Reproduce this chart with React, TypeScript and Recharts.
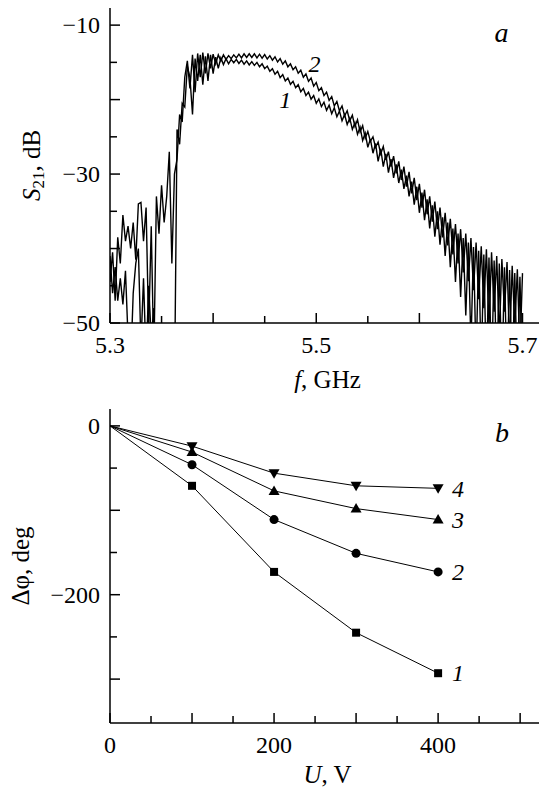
import React from "react";
import { LineChart, Line, XAxis, YAxis, ReferenceDot } from "recharts";

const FONT = "Liberation Serif, Times New Roman, serif";

// (a) S21 spectra, VNA sweep 5.3..5.7 GHz
const FREQ_START = 5.3;
const FREQ_STEP = 0.0025;

const s21Curve1 = [
  -41, -46, -42.5, -47, -44, -47.5, -43, -52, -56, -46,
  -42, -40, -53, -44, -55, -45, -52, -48, -58, -60,
  -60, -60, -60, -60, -60, -60, -24, -26, -20.5, -21,
  -15.5, -17, -22, -14.5, -17.5, -14, -18, -14.2, -17.5, -14,
  -16.5, -14.3, -15.8, -14.4, -15.3, -14.5, -15.2, -14.6, -15.05, -14.6,
  -15.15, -14.7, -15.25, -14.8, -15.35, -14.9, -15.4, -15.0, -15.6, -15.2,
  -15.85, -15.5, -16.2, -15.85, -16.6, -16.2, -17.05, -16.65, -17.5, -17.1,
  -17.95, -17.55, -18.4, -18.0, -18.95, -18.5, -19.45, -19.0, -19.95, -19.45,
  -20.5, -19.9, -20.95, -20.35, -21.45, -20.75, -21.9, -21.1, -22.3, -21.55,
  -22.85, -22.0, -23.35, -22.5, -24.0, -23.1, -24.65, -23.7, -25.5, -24.5,
  -26.4, -25.3, -27.2, -25.9, -28.3, -26.6, -29.0, -27.3, -29.8, -28.0,
  -30.5, -28.7, -31.2, -29.4, -32.0, -30.2, -33.0, -31.0, -34.1, -31.7,
  -35.2, -32.5, -36.2, -33.4, -37.3, -34.2, -38.4, -35.0, -39.5, -35.8,
  -41.0, -36.5, -42.5, -37.3, -44.5, -38.0, -46.5, -38.6, -49.0, -39.2,
  -53, -39.8, -55, -40.3, -56, -40.8, -57, -41.2, -57, -41.6,
  -58, -42.0, -58, -42.5, -58, -42.9, -58, -43.3, -58, -43.8,
  -58,
];

const s21Curve2 = [
  -44.5, -40.5, -47, -38.5, -42, -35.5, -39, -37, -40, -36.5,
  -41.5, -34, -33.8, -39, -34.5, -51, -37, -55, -33, -38,
  -31.5, -36.5, -33, -27, -42, -30, -28, -22, -23, -17,
  -14.8, -18.5, -14, -19, -13.8, -17, -13.7, -16.5, -13.8, -15.8,
  -13.9, -15.2, -14.0, -14.8, -14.0, -14.6, -14.1, -14.5, -14.0, -14.4,
  -13.9, -14.4, -13.85, -14.35, -13.85, -14.35, -13.85, -14.4, -13.9, -14.45,
  -13.95, -14.55, -14.1, -14.7, -14.25, -14.95, -14.5, -15.25, -14.8, -15.6,
  -15.2, -16.0, -15.6, -16.45, -16.05, -17.0, -16.55, -17.55, -17.1, -18.2,
  -17.7, -18.8, -18.4, -19.45, -19.0, -20.1, -19.6, -20.85, -20.25, -21.5,
  -20.85, -22.2, -21.5, -22.85, -22.1, -23.6, -22.7, -24.35, -23.5, -25.2,
  -24.3, -25.6, -25.0, -26.4, -25.7, -27.3, -26.3, -28.1, -27.0, -29.0,
  -27.6, -29.9, -28.3, -30.8, -29.0, -31.7, -29.7, -32.6, -30.5, -33.5,
  -31.3, -34.5, -32.1, -35.4, -33.0, -36.4, -33.7, -37.4, -34.5, -38.5,
  -35.2, -39.6, -36.0, -40.8, -36.7, -42.0, -37.4, -43.2, -38.0, -44.4,
  -38.6, -45.6, -39.2, -46.8, -39.7, -48, -40.1, -50.5, -40.5, -48.5,
  -41.0, -52, -41.4, -48.5, -41.8, -53, -42.3, -50.5, -42.8, -54,
  -43.3,
];

const freqTicks = [5.3, 5.35, 5.4, 5.45, 5.5, 5.55, 5.6, 5.65, 5.7];
const freqMajor = [5.3, 5.4, 5.5, 5.6, 5.7];
const freqLabeled = [5.3, 5.5, 5.7];
const s21Ticks = [-50, -45, -40, -35, -30, -25, -20, -15, -10];
const s21Major = [-50, -40, -30, -20, -10];
const s21Labeled = [-50, -30, -10];

// (b) phase shift vs bias voltage
const voltages = [0, 100, 200, 300, 400];
const phase1 = [0, -71, -173, -245, -293];
const phase2 = [0, -46, -111, -151, -173];
const phase3 = [0, -31, -77, -98, -111];
const phase4 = [0, -24, -56, -71, -74];

const voltTicks = [0, 50, 100, 150, 200, 250, 300, 350, 400, 450, 500];
const voltMajor = [0, 100, 200, 300, 400, 500];
const voltLabeled = [0, 200, 400];
const phaseTicks = [-300, -250, -200, -150, -100, -50, 0];
const phaseMajor = [-300, -200, -100, 0];
const phaseLabeled = [-200, 0];

const spectrum = s21Curve1.map((v, i) => ({
  f: +(FREQ_START + i * FREQ_STEP).toFixed(4),
  c1: v,
  c2: s21Curve2[i],
}));

const phaseData = voltages.map((u, i) => ({
  u,
  p1: phase1[i],
  p2: phase2[i],
  p3: phase3[i],
  p4: phase4[i],
}));

const has = (list: number[], v: number) => list.some((t) => Math.abs(t - v) < 1e-6);
const fmt = (v: number) => (v < 0 ? "\u2212" + Math.abs(v) : String(v));

const Y_GAP = 10;
const X_DROP = 30;

const YTick = (props: any) => {
  const { x, y, payload, major, labeled } = props;
  const v = payload.value;
  const ax = x + Y_GAP;
  const len = has(major, v) ? 10 : 7;
  return (
    <g>
      <line x1={ax} x2={ax + len} y1={y} y2={y} stroke="#000" strokeWidth={1.5} />
      {has(labeled, v) && (
        <text x={x} y={y} dy="0.34em" textAnchor="end" fontSize={24} fontFamily={FONT} fill="#000">
          {fmt(v)}
        </text>
      )}
    </g>
  );
};

const XTick = (props: any) => {
  const { x, y, payload, major, labeled } = props;
  const v = payload.value;
  const ay = y - X_DROP;
  const len = has(major, v) ? 10 : 7;
  return (
    <g>
      <line x1={x} x2={x} y1={ay} y2={ay - len} stroke="#000" strokeWidth={1.5} />
      {has(labeled, v) && (
        <text x={x} y={y} textAnchor="middle" fontSize={24} fontFamily={FONT} fill="#000">
          {fmt(v)}
        </text>
      )}
    </g>
  );
};

const Marker = (props: any) => {
  const { cx, cy, index, kind } = props;
  const key = `m-${kind}-${index}`;
  if (index === 0 || cx == null || cy == null) return <g key={key} />;
  if (kind === "square")
    return <rect key={key} x={cx - 4} y={cy - 4} width={8} height={8} fill="#000" />;
  if (kind === "circle") return <circle key={key} cx={cx} cy={cy} r={4.5} fill="#000" />;
  if (kind === "up")
    return (
      <polygon key={key} points={`${cx},${cy - 5.5} ${cx - 5.5},${cy + 4} ${cx + 5.5},${cy + 4}`} fill="#000" />
    );
  return (
    <polygon key={key} points={`${cx},${cy + 5.5} ${cx - 5.5},${cy - 4} ${cx + 5.5},${cy - 4}`} fill="#000" />
  );
};

const endLabel = (text: string, last: number) => (props: any) => {
  const { x, y, index } = props;
  if (index !== last) return null;
  return (
    <text x={x + 14} y={y} dy="0.34em" fontSize={24} fontStyle="italic" fontFamily={FONT} fill="#000">
      {text}
    </text>
  );
};

const tagLabel = (text: string, size: number) => (props: any) => {
  const vb = props.viewBox || {};
  const x = (vb.x ?? 0) + (vb.width ?? 0) / 2;
  const y = (vb.y ?? 0) + (vb.height ?? 0) / 2;
  return (
    <text x={x} y={y} textAnchor="middle" fontSize={size} fontStyle="italic" fontFamily={FONT} fill="#000">
      {text}
    </text>
  );
};

const axisStyle = { stroke: "#000", strokeWidth: 1.5 };

export default function App() {
  return (
    <div
      style={{
        position: "absolute",
        left: 0,
        top: 0,
        width: 539,
        height: 789,
        background: "#fff",
        fontFamily: FONT,
      }}
    >
      <div style={{ position: "absolute", left: 0, top: 0 }}>
        <LineChart width={539} height={400} data={spectrum} margin={{ top: 8, right: 0, bottom: 0, left: 0 }}>
          <XAxis
            dataKey="f"
            type="number"
            domain={[5.3, 5.716]}
            allowDataOverflow
            ticks={freqTicks}
            interval={0}
            height={77}
            tickSize={0}
            tickMargin={X_DROP}
            tickLine={false}
            axisLine={axisStyle}
            tick={(p: any) => <XTick {...p} major={freqMajor} labeled={freqLabeled} />}
            label={(p: any) => {
              const vb = p.viewBox;
              return (
                <text x={vb.x + vb.width / 2 + 3} y={vb.y + 65} textAnchor="middle" fontSize={25} fontFamily={FONT} fill="#000">
                  <tspan fontStyle="italic">f</tspan>, GHz
                </text>
              );
            }}
          />
          <YAxis
            type="number"
            domain={[-50, -7.7]}
            allowDataOverflow
            ticks={s21Ticks}
            interval={0}
            width={110}
            tickSize={0}
            tickMargin={Y_GAP}
            tickLine={false}
            axisLine={axisStyle}
            tick={(p: any) => <YTick {...p} major={s21Major} labeled={s21Labeled} />}
            label={(p: any) => {
              const vb = p.viewBox;
              const cx = vb.x + 40;
              const cy = vb.y + vb.height / 2;
              return (
                <text x={cx} y={cy} transform={`rotate(-90, ${cx}, ${cy})`} textAnchor="middle" fontSize={25} fontFamily={FONT} fill="#000">
                  <tspan fontStyle="italic">S</tspan>
                  <tspan fontSize={17} dy={4}>21</tspan>
                  <tspan dy={-4}>, dB</tspan>
                </text>
              );
            }}
          />
          <Line dataKey="c1" type="linear" stroke="#000" strokeWidth={1.4} dot={false} isAnimationActive={false} />
          <Line dataKey="c2" type="linear" stroke="#000" strokeWidth={1.4} dot={false} isAnimationActive={false} />
          <ReferenceDot x={5.4699} y={-21.18} r={0} fill="none" stroke="none" label={tagLabel("1", 24)} />
          <ReferenceDot x={5.4983} y={-16.27} r={0} fill="none" stroke="none" label={tagLabel("2", 24)} />
          <ReferenceDot x={5.6796} y={-12.28} r={0} fill="none" stroke="none" label={tagLabel("a", 28)} />
        </LineChart>
      </div>

      <div style={{ position: "absolute", left: 0, top: 400 }}>
        <LineChart width={539} height={389} data={phaseData} margin={{ top: 9, right: 0, bottom: 0, left: 0 }}>
          <XAxis
            dataKey="u"
            type="number"
            domain={[0, 523]}
            allowDataOverflow
            ticks={voltTicks}
            interval={0}
            height={66}
            tickSize={0}
            tickMargin={X_DROP}
            tickLine={false}
            axisLine={axisStyle}
            tick={(p: any) => <XTick {...p} major={voltMajor} labeled={voltLabeled} />}
            label={(p: any) => {
              const vb = p.viewBox;
              return (
                <text x={vb.x + vb.width / 2 + 3} y={vb.y + 60} textAnchor="middle" fontSize={25} fontFamily={FONT} fill="#000">
                  <tspan fontStyle="italic">U</tspan>, V
                </text>
              );
            }}
          />
          <YAxis
            type="number"
            domain={[-352, 20]}
            allowDataOverflow
            ticks={phaseTicks}
            interval={0}
            width={110}
            tickSize={0}
            tickMargin={Y_GAP}
            tickLine={false}
            axisLine={axisStyle}
            tick={(p: any) => <YTick {...p} major={phaseMajor} labeled={phaseLabeled} />}
            label={(p: any) => {
              const vb = p.viewBox;
              const cx = vb.x + 29;
              const cy = vb.y + vb.height / 2;
              return (
                <text x={cx} y={cy} transform={`rotate(-90, ${cx}, ${cy})`} textAnchor="middle" fontSize={25} fontFamily={FONT} fill="#000">
                  Δφ, deg
                </text>
              );
            }}
          />
          <Line dataKey="p1" type="linear" stroke="#000" strokeWidth={1} isAnimationActive={false}
            dot={(p: any) => <Marker {...p} kind="square" />} label={endLabel("1", 4)} />
          <Line dataKey="p2" type="linear" stroke="#000" strokeWidth={1} isAnimationActive={false}
            dot={(p: any) => <Marker {...p} kind="circle" />} label={endLabel("2", 4)} />
          <Line dataKey="p3" type="linear" stroke="#000" strokeWidth={1} isAnimationActive={false}
            dot={(p: any) => <Marker {...p} kind="up" />} label={endLabel("3", 4)} />
          <Line dataKey="p4" type="linear" stroke="#000" strokeWidth={1} isAnimationActive={false}
            dot={(p: any) => <Marker {...p} kind="down" />} label={endLabel("4", 4)} />
          <ReferenceDot x={478} y={-18.7} r={0} fill="none" stroke="none" label={tagLabel("b", 28)} />
        </LineChart>
      </div>
    </div>
  );
}
